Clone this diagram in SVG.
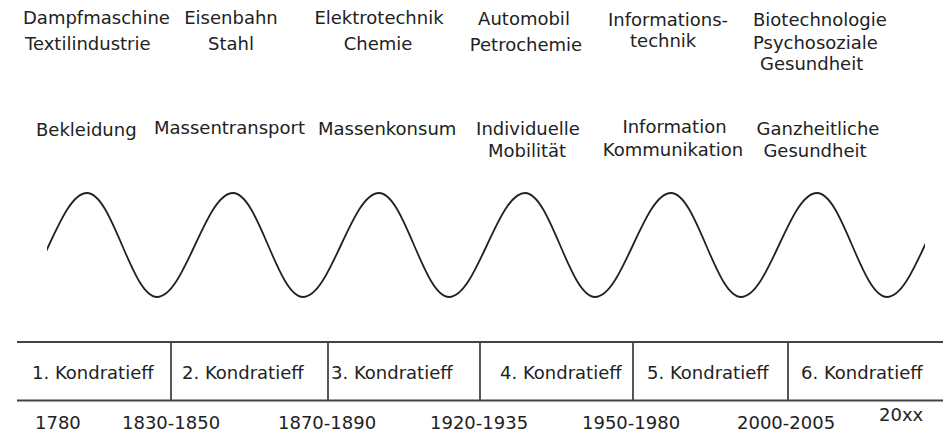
<svg xmlns="http://www.w3.org/2000/svg" width="950" height="435" viewBox="0 0 950 435">
<style>
text{font-family:"DejaVu Sans","Verdana",sans-serif;font-size:18px;fill:#222}
.m{text-anchor:middle}
.ln{stroke:#444;stroke-width:1.8;fill:none}
.wave{stroke:#222;stroke-width:1.8;fill:none}
</style>
<defs>
<clipPath id="wclip"><rect x="47" y="150" width="878" height="200"/></clipPath>
</defs>
<rect width="950" height="435" fill="#fff"/>

<g id="col1">
<text x="23" y="24">Dampfmaschine</text>
<text x="25" y="50">Textilindustrie</text>
<text x="36" y="136">Bekleidung</text>
</g>
<g id="col2">
<text class="m" x="231" y="24">Eisenbahn</text>
<text class="m" x="231" y="50">Stahl</text>
<text x="154" y="134">Massentransport</text>
</g>
<g id="col3">
<text class="m" x="379" y="24">Elektrotechnik</text>
<text class="m" x="378" y="50">Chemie</text>
<text x="318" y="135">Massenkonsum</text>
</g>
<g id="col4">
<text class="m" x="524" y="25">Automobil</text>
<text class="m" x="526" y="51">Petrochemie</text>
<text class="m" x="528" y="135">Individuelle</text>
<text class="m" x="527" y="157">Mobilität</text>
</g>
<g id="col5">
<text x="608" y="26">Informations-</text>
<text x="630" y="47">technik</text>
<text class="m" x="674.5" y="133">Information</text>
<text class="m" x="673" y="156">Kommunikation</text>
</g>
<g id="col6">
<text x="753" y="26">Biotechnologie</text>
<text x="753" y="49">Psychosoziale</text>
<text x="760" y="70">Gesundheit</text>
<text class="m" x="818" y="135">Ganzheitliche</text>
<text class="m" x="815" y="157">Gesundheit</text>
</g>

<g id="connectors">
<path class="wave" clip-path="url(#wclip)" d="M11,297 C38.7,297 59.3,193 87,193 C112.5,193 131.5,297 157,297 C184.7,297 205.3,193 233,193 C258.5,193 277.5,297 303,297 C330.7,297 351.3,193 379,193 C404.5,193 423.5,297 449,297 C476.7,297 497.3,193 525,193 C550.5,193 569.5,297 595,297 C622.7,297 643.3,193 671,193 C696.5,193 715.5,297 741,297 C768.7,297 789.3,193 817,193 C842.5,193 861.5,297 887,297 C914.7,297 935.3,193 963,193"/>
<line class="ln" x1="17" y1="342" x2="943" y2="342"/>
<line class="ln" x1="17" y1="400.5" x2="943" y2="400.5"/>
<line class="ln" x1="171" y1="342" x2="171" y2="400.5"/>
<line class="ln" x1="328" y1="342" x2="328" y2="400.5"/>
<line class="ln" x1="480" y1="342" x2="480" y2="400.5"/>
<line class="ln" x1="633" y1="342" x2="633" y2="400.5"/>
<line class="ln" x1="788" y1="342" x2="788" y2="400.5"/>
</g>

<g id="table">
<text x="32" y="379">1. Kondratieff</text>
<text x="182" y="379">2. Kondratieff</text>
<text x="331" y="379">3. Kondratieff</text>
<text x="500" y="379">4. Kondratieff</text>
<text x="647" y="379">5. Kondratieff</text>
<text x="801" y="379">6. Kondratieff</text>
</g>

<g id="years">
<text x="35" y="429">1780</text>
<text x="122" y="429">1830-1850</text>
<text x="278" y="429">1870-1890</text>
<text x="430" y="429">1920-1935</text>
<text x="582" y="429">1950-1980</text>
<text x="737" y="429">2000-2005</text>
<text x="879" y="421">20xx</text>
</g>
</svg>
